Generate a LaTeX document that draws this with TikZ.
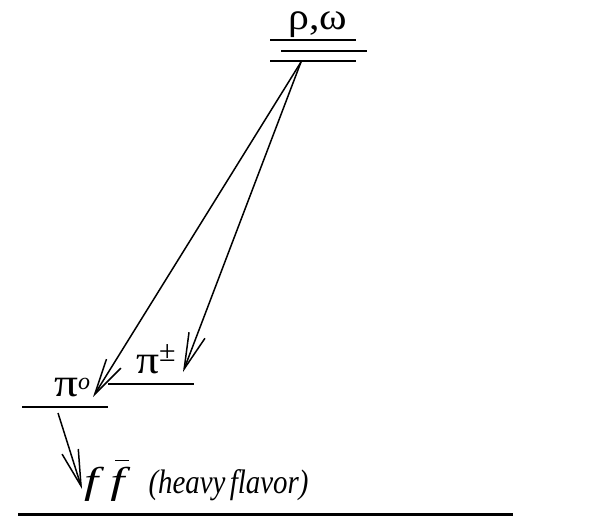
\documentclass[tikz,border=0pt]{standalone}
\usepackage{fontspec}
\setmainfont{Liberation Serif}
\usetikzlibrary{arrows.meta,positioning}

\begin{document}
\begin{tikzpicture}[x=1pt, y=-1pt, every node/.style={inner sep=0pt, font=\fontsize{38}{38}\selectfont},
  lvl/.style={line width=1.1pt},
  arr/.style={-{Straight Barb[length=36pt,width=17pt]}, line width=1.5pt},
  lbl/.style={anchor=base}]
\useasboundingbox (0,0) rectangle (616,516);
% levels
\draw[lvl] (270,40) -- (356,40);
\draw[lvl] (281,51) -- (367,51);
\draw[lvl] (270,61) -- (356,61);
\draw[lvl] (108,384) -- (194,384);
\draw[lvl] (22,407) -- (108,407);
\draw[line width=3pt] (18,514) -- (513,514);
% labels
\node[lbl] (rw) at (318,30) {\scalebox{1.1}[1]{ρ,ω}};
\node[lbl, anchor=base west] (pz) at (54,396) {\scalebox{1.25}[1.05]{π}{\fontsize{24}{24}\selectfont\itshape\raisebox{7pt}{o}}};
\node[lbl, anchor=base west] (pc) at (136,373) {\scalebox{1.2}[1.05]{π}{\fontsize{30}{30}\selectfont\raisebox{12pt}{±}}};
\node[lbl, anchor=base west, font=\fontsize{34}{34}\selectfont\itshape] (ff) at (84,493) {\scalebox{1.5}[1.1]{f}\kern12pt\rlap{\kern5pt\raisebox{32pt}{\rule{14pt}{1.3pt}}}\scalebox{1.5}[1.1]{f}\kern24pt\scalebox{0.85}[1]{(heavy\kern5pt flavor)}};
% decays
\coordinate (top) at (301,62);
\coordinate (pztip) at (93,397);
\coordinate (pctip) at (183,372);
\coordinate (pzbot) at (58,413);
\coordinate (fftip) at (82,489);
\draw[arr] (top) -- (pztip);
\draw[arr] (top) -- (pctip);
\draw[arr] (pzbot) -- (fftip);
\end{tikzpicture}
\end{document}
